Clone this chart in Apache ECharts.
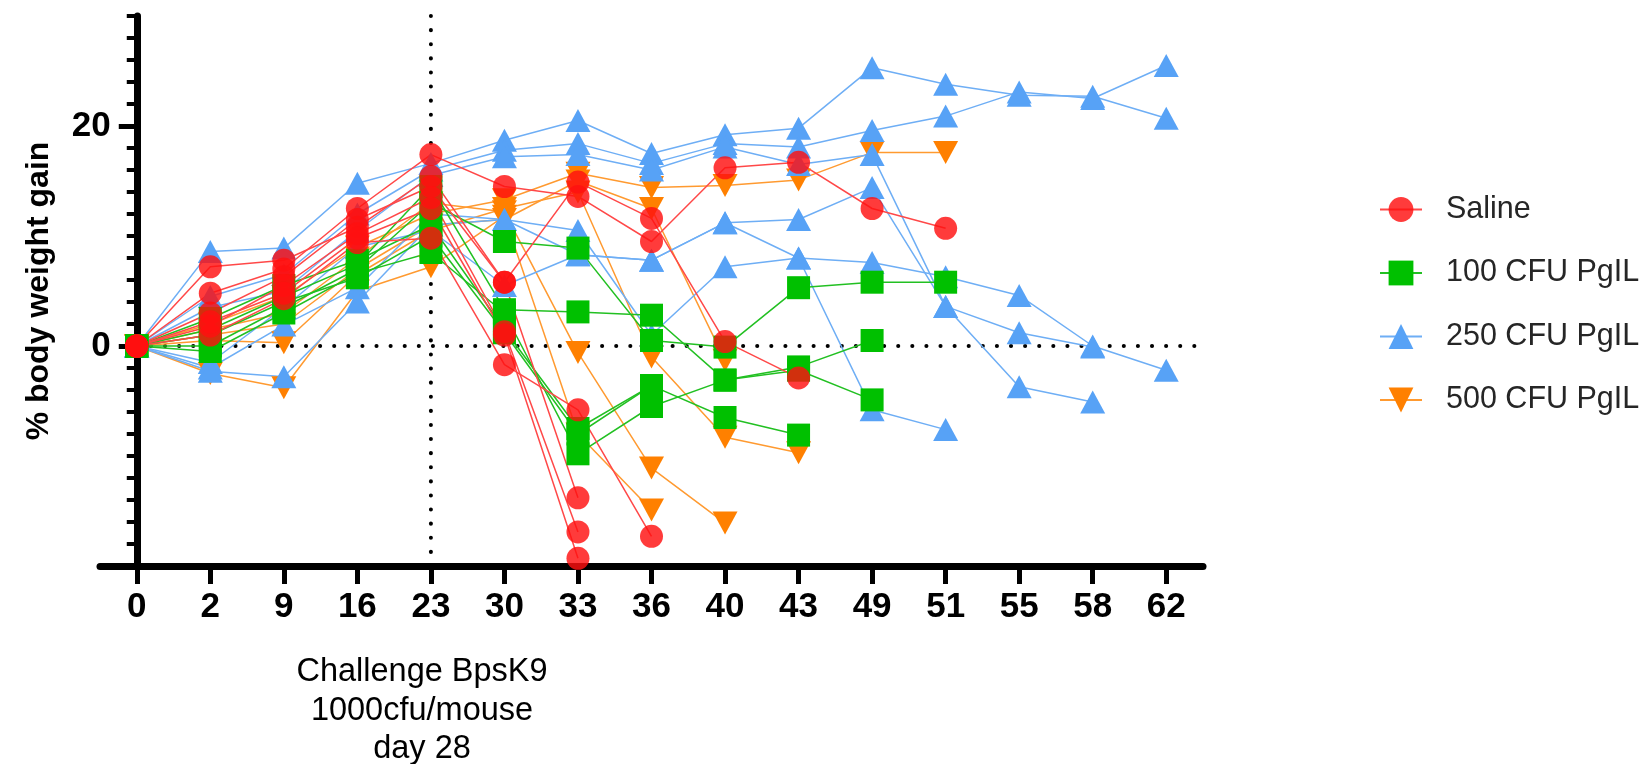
<!DOCTYPE html>
<html>
<head>
<meta charset="utf-8">
<script src="https://cdn.jsdelivr.net/npm/echarts@6/dist/echarts.min.js"></script>
<style>
html,body{margin:0;padding:0;background:#fff;}
#c{width:1643px;height:764px;}
</style>
</head>
<body>
<div id="c"></div>
<script>
// ---- data ----
const categories = ['0','2','9','16','23','30','33','36','40','43','49','51','55','58','62'];
const yTickLabels = [0, 20];
const yMinorStep = 2;

// one row per mouse, values follow the categories (missing = not measured / dead)
const saline = [
  [0, 4.8, 7.0, 12.5, 17.4, 14.5, 13.6, 9.5, 16.2, 16.7, 12.5, 10.7],
  [0, 7.2, 7.8, 10.8, 15.4, 5.8, 14.9, 11.6, 0.4, -2.9],
  [0, 1.0, 4.3, 9.4, 9.8, -1.7, -5.8, -17.3],
  [0, 3.0, 6.3, 11.5, 14.5, 5.8, -13.8],
  [0, 1.8, 5.5, 10.2, 13.5, 1.3, -16.9],
  [0, 2.2, 4.8, 9.8, 12.5, 1.0, -19.3]
];
const cfu100 = [
  [0, 0.0, 3.5, 7.0, 13.0, 9.5, 8.9, 0.5, -0.1, 5.3, 5.8, 5.8],
  [0, 1.5, 4.5, 7.4, 14.5, 3.3, 3.1, 2.8, -3.1, -1.9, 0.5],
  [0, 2.5, 5.5, 7.8, 11.0, 1.5, -7.5, -3.6, -6.5, -8.1],
  [0, -0.5, 3.0, 6.6, 8.5, 3.0, -9.8, -5.5, -3.1, -2.2, -4.9],
  [0, 1.0, 4.0, 6.2, 10.0, 1.2, -8.0, -3.6]
];
const cfu250 = [
  [0, 8.6, 8.9, 14.8, 16.6, 18.7, 20.5, 17.5, 19.2, 19.8, 25.3, 23.8, 22.8, 22.7, 20.7],
  [0, 4.5, 6.5, 12.0, 16.0, 17.8, 18.4, 16.6, 18.4, 18.1, 19.6, 20.9, 23.1, 22.5, 25.5],
  [0, 3.5, 5.0, 10.5, 15.5, 17.2, 17.4, 16.0, 18.1, 16.5, 17.4, 3.6, 1.2, -0.1],
  [0, -2.0, 1.9, 5.3, 12.0, 11.5, 10.5, 1.0, 7.2, 8.0, 7.6, 6.3, 4.6, 0.0, -2.2],
  [0, -1.5, 3.5, 9.0, 10.5, 5.5, 8.3, 7.8, 11.2, 11.5, 14.4, 3.6, -3.7, -5.1],
  [0, -2.3, -2.8, 4.0, 11.0, 11.5, 8.3, 7.8, 11.2, 8.0, -5.8, -7.6]
];
const cfu500 = [
  [0, 2.0, 4.5, 9.0, 12.0, 13.3, 15.7, 14.4, 14.6, 15.1, 17.6, 17.6],
  [0, 1.5, 3.0, 8.0, 13.0, 12.2, -0.6, -11.1, -16.1],
  [0, -2.5, -3.8, 5.0, 7.2, 11.8, -8.0, -14.9],
  [0, 0.5, 0.3, 6.5, 10.5, 12.5, 14.0, -1.0, -8.3, -9.7],
  [0, 1.0, 2.0, 7.0, 11.0, 11.5, 15.0, 12.5, -1.3]
];
const zeroLine = [[0, 0], [14.5, 0]];
const challengeLine = [[4, -20], [4, 30]];
const annotation = 'Challenge BpsK9\n1000cfu/mouse\nday 28';

// ---- styles ----
const FONT = '"Liberation Sans", Arial, Helvetica, sans-serif';
const groups = [
  {name:'500 CFU PgIL', rows:cfu500, symbol:'triangle', size:[25,23], rotate:180, color:'#ff8000', line:'#ff9a30', opacity:1},
  {name:'250 CFU PgIL', rows:cfu250, symbol:'triangle', size:[25,23], rotate:0, color:'#57a2f6', line:'#6eaef5', opacity:1},
  {name:'100 CFU PgIL', rows:cfu100, symbol:'rect', size:23, rotate:0, color:'#00c000', line:'#22c022', opacity:1},
  {name:'Saline', rows:saline, symbol:'circle', size:23, rotate:0, color:'#ff1010', line:'#ff4848', opacity:0.82}
];

const series = [];
const dotted = {color:'#000', width:4, type:[0.1, 14], cap:'round'};
series.push({type:'line', data:zeroLine, symbol:'none', lineStyle:dotted, silent:true, animation:false, z:1});
series.push({type:'line', data:challengeLine, symbol:'none', lineStyle:dotted, silent:true, animation:false, z:1});

groups.forEach(g => {
  g.rows.forEach(row => {
    const data = [];
    row.forEach((v, i) => { if (v !== null && v !== undefined) data.push([i, v]); });
    series.push({
      type:'line', name:g.name, data:data,
      symbol:g.symbol, symbolSize:g.size, symbolRotate:g.rotate,
      itemStyle:{color:g.color, opacity:g.opacity},
      lineStyle:{color:g.line, width:1.5},
      emphasis:{disabled:true}, silent:true, animation:false, clip:false, z:2
    });
  });
});

const idx = categories.map((c, i) => i);
const GRID_LEFT = 100, GRID_W = 1103;
const yOffset = -(GRID_W / categories.length) / 2;   // y axis sits on the first category

const option = {
  backgroundColor:'#fff',
  animation:false,
  grid:{left:GRID_LEFT, top:16, width:GRID_W, height:550, containLabel:false, outerBoundsMode:'none'},
  legend:{
    orient:'vertical', left:1374, top:189, itemWidth:42, itemHeight:31, itemGap:32.5,
    selectedMode:false,
    data:['Saline','100 CFU PgIL','250 CFU PgIL','500 CFU PgIL'],
    textStyle:{fontSize:30.5, color:'#262626', fontFamily:FONT, padding:[0,0,0,19]}
  },
  xAxis:[{
    type:'value', min:-0.5, max:14.5,
    axisLine:{show:true, onZero:false, lineStyle:{color:'#000', width:7}},
    axisTick:{show:true, customValues:idx, length:18, lineStyle:{color:'#000', width:5}},
    axisLabel:{customValues:idx, formatter:(v) => categories[Math.round(v)], fontSize:35, fontWeight:'bold', color:'#000', margin:24, fontFamily:FONT},
    splitLine:{show:false}
  }],
  yAxis:[{
    type:'value', min:-20, max:30, position:'left', offset:yOffset,
    name:'% body weight gain', nameLocation:'middle', nameGap:82,
    nameTextStyle:{fontSize:32, fontWeight:'bold', color:'#000', fontFamily:FONT},
    axisLine:{show:true, onZero:false, lineStyle:{color:'#000', width:7}},
    axisTick:{show:true, customValues:yTickLabels, length:18, lineStyle:{color:'#000', width:5}},
    axisLabel:{customValues:yTickLabels, fontSize:35, fontWeight:'bold', color:'#000', margin:26, fontFamily:FONT},
    splitLine:{show:false}
  },{
    type:'value', min:-20, max:30, interval:yMinorStep, position:'left', offset:yOffset,
    axisLine:{show:false, onZero:false},
    axisTick:{show:true, length:10, lineStyle:{color:'#000', width:4}},
    axisLabel:{show:false}, splitLine:{show:false}
  }],
  graphic:[{
    type:'text', x:422, y:653, silent:true,
    style:{text:annotation, fontSize:32.5, fontFamily:FONT, fill:'#000', align:'center', textAlign:'center', verticalAlign:'top', textVerticalAlign:'top', lineHeight:38.5}
  }],
  series:series
};

const chart = echarts.init(document.getElementById('c'), null, {renderer:'canvas'});
chart.setOption(option);
</script>
</body>
</html>
